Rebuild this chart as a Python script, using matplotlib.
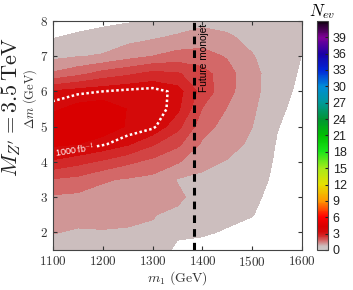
import numpy as np
import matplotlib
matplotlib.use('Agg')
import matplotlib.pyplot as plt
from matplotlib.colors import LinearSegmentedColormap, Normalize
from matplotlib.ticker import FuncFormatter
import matplotlib.cm as cm

# grid of the scan
m1 = [1100, 1150, 1200, 1250, 1300, 1350, 1400, 1450, 1500, 1550, 1600]
dm = [1.5, 2.0, 2.5, 3.0, 3.5, 4.0, 4.5, 5.0, 5.5, 6.0, 6.5, 7.0, 7.5, 8.0]

# N_ev, one list per m1 column (dm from 1.5 to 8.0)
nev_by_m1 = [
    [0.80, 1.02, 1.22, 1.43, 1.96, 2.90, 3.70, 4.00, 3.50, 3.05, 1.57, 0.86, 0.50, 0.30],
    [0.85, 0.95, 1.15, 1.38, 1.85, 2.65, 3.60, 4.00, 3.80, 3.20, 1.85, 0.97, 0.58, 0.35],
    [0.90, 0.98, 1.10, 1.33, 1.55, 2.40, 3.35, 3.90, 3.90, 3.30, 2.20, 1.05, 0.68, 0.40],
    [0.92, 0.97, 1.07, 1.25, 1.45, 2.10, 3.05, 3.55, 3.58, 3.40, 2.40, 1.30, 0.85, 0.45],
    [0.90, 0.95, 1.02, 1.15, 1.35, 1.85, 2.55, 3.40, 3.55, 3.45, 2.65, 1.50, 0.97, 0.48],
    [0.35, 0.62, 0.90, 1.10, 0.97, 1.55, 2.10, 2.65, 3.10, 3.20, 2.55, 1.70, 1.10, 0.70],
    [0.35, 0.55, 0.68, 0.78, 0.92, 1.10, 1.42, 1.70, 1.97, 2.30, 2.20, 1.70, 1.25, 0.85],
    [0.30, 0.46, 0.60, 0.72, 0.83, 0.97, 1.15, 1.30, 1.47, 1.65, 1.68, 1.45, 1.10, 0.80],
    [0.15, 0.35, 0.52, 0.62, 0.72, 0.82, 0.92, 1.00, 1.08, 1.15, 1.15, 1.03, 0.85, 0.70],
    [0.00, 0.10, 0.20, 0.30, 0.38, 0.42, 0.46, 0.52, 0.60, 0.68, 0.72, 0.72, 0.70, 0.65],
    [0.00, 0.00, 0.05, 0.10, 0.15, 0.20, 0.24, 0.28, 0.32, 0.38, 0.44, 0.49, 0.55, 0.60],
]

levels = [0.5, 1.0, 1.5, 2.0, 2.5, 3.0, 3.6, 5.0]
lumi_level = 3.3        # the 1000 fb^-1 line
monojet_m1 = 1383       # future monojet reach
cbar_ticks = list(range(0, 40, 3))
nev_max = 42

# colour scale: grey-pink -> red -> orange -> yellow -> green -> blue -> purple -> black
cmap_nodes = [
    (0.0, (0.80, 0.78, 0.78)), (0.75, (0.80, 0.74, 0.74)), (1.25, (0.82, 0.55, 0.55)),
    (1.75, (0.83, 0.37, 0.37)), (2.25, (0.82, 0.24, 0.24)), (2.75, (0.83, 0.13, 0.13)),
    (3.3, (0.83, 0.04, 0.04)), (4.3, (0.85, 0.0, 0.0)), (6, (1.0, 0.0, 0.0)),
    (9, (1.0, 0.6, 0.0)), (12, (0.9, 0.88, 0.0)), (15, (0.65, 0.92, 0.1)),
    (18, (0.1, 0.9, 0.1)), (21, (0.0, 0.75, 0.0)), (24, (0.0, 0.58, 0.2)),
    (27, (0.0, 0.6, 0.6)), (30, (0.0, 0.55, 0.85)), (33, (0.0, 0.15, 0.85)),
    (36, (0.1, 0.0, 0.65)), (39, (0.5, 0.0, 0.6)), (42, (0.05, 0.0, 0.05)),
]
cmap = LinearSegmentedColormap.from_list('nev', [(v / nev_max, c) for v, c in cmap_nodes])
norm = Normalize(0, nev_max)

plt.rcParams['mathtext.fontset'] = 'cm'
plt.rcParams['font.family'] = ['Liberation Sans', 'DejaVu Sans']

X, Y = np.meshgrid(m1, dm)
Z = np.array(nev_by_m1).T

fig = plt.figure(figsize=(3.53, 2.90), dpi=100)
ax = fig.add_axes([0.150, 0.138, 0.706, 0.790])
cax = fig.add_axes([0.898, 0.138, 0.031, 0.790])

ax.contourf(X, Y, Z, levels=levels, cmap=cmap, norm=norm)
cs = ax.contour(X, Y, Z, levels=[lumi_level], colors='white',
                linewidths=1.8, linestyles=[(0, (1, 1))])
ax.clabel(cs, fmt={lumi_level: '1000 fb$^{-1}$'}, manual=[(1145, 4.3)],
          inline=True, inline_spacing=2, fontsize=6.5, colors='white')

# future monojet line
ax.axvline(monojet_m1, color='black', linestyle=(0, (2.5, 2)), linewidth=2.2)
ax.text(monojet_m1 + 20, 7.92, 'Future monojet', rotation=90, ha='center', va='top',
        fontsize=7.3, color='black')

ax.set_xlim(1100, 1600)
ax.set_ylim(1.5, 8)
ax.set_xticks([1100, 1200, 1300, 1400, 1500, 1600])
ax.set_yticks([2, 3, 4, 5, 6, 7, 8])
fmt = FuncFormatter(lambda v, p: f'${v:g}$')
ax.xaxis.set_major_formatter(fmt)
ax.yaxis.set_major_formatter(fmt)
ax.tick_params(direction='in', top=True, right=True, labelsize=9.5,
               colors='#333333', length=3)
for s in ax.spines.values():
    s.set_color('#444444')

ax.set_xlabel(r'$m_1\ (\mathrm{GeV})$', fontsize=10, color='#333333')
ax.xaxis.set_label_coords(0.5, -0.085)
ax.set_ylabel(r'$\Delta m\ (\mathrm{GeV})$', fontsize=9, color='#333333')
ax.yaxis.set_label_coords(-0.055, 0.66)
fig.text(0.031, 0.63, r"$M_{Z'} = 3.5\,\mathrm{TeV}$", rotation=90,
         ha='center', va='center', fontsize=16, color='#222222')

# colour bar
cb = fig.colorbar(cm.ScalarMappable(norm=norm, cmap=cmap), cax=cax, ticks=cbar_ticks)
cb.ax.tick_params(direction='in', labelsize=9, length=2, colors='#222222')
cb.outline.set_edgecolor('#444444')
cax.set_title(r'$N_{ev}$', fontsize=12, pad=3)

fig.savefig('out.png', dpi=100)
